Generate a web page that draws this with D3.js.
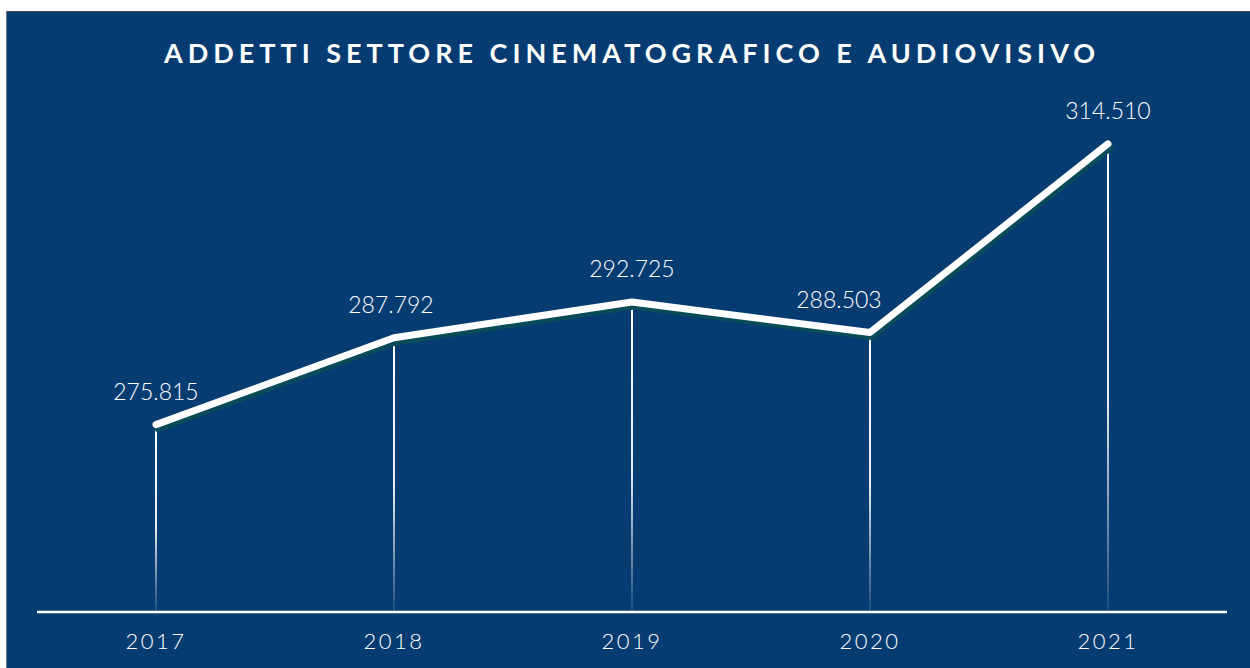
<!DOCTYPE html>
<html>
<head>
<meta charset="utf-8">
<script src="https://cdn.jsdelivr.net/npm/d3@7"></script>
<style>
  body { margin: 0; background: #fff; }
  svg { display: block; }
</style>
</head>
<body>
<div id="chart"></div>
<script>
var years = ["2017", "2018", "2019", "2020", "2021"];
var addetti = [275815, 287792, 292725, 288503, 314510];
var title = "ADDETTI SETTORE CINEMATOGRAFICO E AUDIOVISIVO";

var w = 1250,
	h = 668,
	bg = "#063c71",
	baseY = 612;

var svg = d3.select("#chart")
			.append("svg")
			.attr("width", w)
			.attr("height", h)

// panel
svg.append("rect")
	.attr("x", 7)
	.attr("y", 11)
	.attr("width", w - 7)
	.attr("height", h - 11)
	.style("fill", bg)
svg.append("line")
	.attr("x1", 7).attr("x2", w)
	.attr("y1", 11.5).attr("y2", 11.5)
	.style("stroke", "#3d4a57")
svg.append("line")
	.attr("x1", 6.5).attr("x2", 6.5)
	.attr("y1", 11).attr("y2", h)
	.style("stroke", "#6b7580")

var x = d3.scalePoint()
			.domain(years)
			.range([156, 1108])

var y = d3.scaleLinear()
			.domain([250000, 320000])
			.range([baseY, baseY - 508])

var fmt = d3.formatLocale({decimal: ",", thousands: ".", grouping: [3], currency: ["", "€"]}).format(",d");

var defs = svg.append("defs");
var grad = defs.append("linearGradient")
	.attr("id", "fade")
	.attr("x1", 0).attr("x2", 0)
	.attr("y1", 0).attr("y2", 1)
grad.append("stop").attr("offset", "0%").attr("stop-color", "#fff").attr("stop-opacity", 1)
grad.append("stop").attr("offset", "55%").attr("stop-color", "#fff").attr("stop-opacity", 0.9)
grad.append("stop").attr("offset", "100%").attr("stop-color", "#fff").attr("stop-opacity", 0.08)

// drop lines
svg.selectAll(".drop")
	.data(addetti)
	.enter().append("rect")
	.attr("class", "drop")
	.attr("x", function(d, i) { return x(years[i]) - 1; })
	.attr("y", function(d) { return y(d); })
	.attr("width", 2)
	.attr("height", function(d) { return baseY - y(d); })
	.style("fill", "url(#fade)")

// baseline
svg.append("line")
	.attr("x1", 37).attr("x2", 1227)
	.attr("y1", baseY).attr("y2", baseY)
	.style("stroke", "#fff")
	.style("stroke-width", 2.5)

var line = d3.line()
	.x(function(d, i) { return x(years[i]); })
	.y(function(d) { return y(d); })

// shadow
svg.append("path")
	.datum(addetti)
	.attr("d", line)
	.attr("transform", "translate(2,4)")
	.style("fill", "none")
	.style("stroke", "#0a4b5a")
	.style("stroke-width", 7)
	.style("stroke-linecap", "round")
	.style("stroke-linejoin", "round")

svg.append("path")
	.datum(addetti)
	.attr("d", line)
	.style("fill", "none")
	.style("stroke", "#fff")
	.style("stroke-width", 7)
	.style("stroke-linecap", "round")
	.style("stroke-linejoin", "round")

// value labels (a dip gets its label nudged left, off the rising line)
function isDip(i) {
	return i > 0 && i < addetti.length - 1 && addetti[i] < addetti[i - 1] && addetti[i] < addetti[i + 1];
}
svg.selectAll(".val")
	.data(addetti)
	.enter().append("text")
	.attr("class", "val")
	.attr("x", function(d, i) { return x(years[i]) - (isDip(i) ? 31 : 3 * (i == 1)); })
	.attr("y", function(d) { return y(d) - 25; })
	.style("text-anchor", "middle")
	.style("font", "300 23px Lato, sans-serif")
	.style("fill", "#fff")
	.text(function(d) { return fmt(d); })

// year labels
svg.selectAll(".yr")
	.data(years)
	.enter().append("text")
	.attr("class", "yr")
	.attr("x", function(d) { return x(d); })
	.attr("y", 649)
	.style("text-anchor", "middle")
	.style("font", "300 22px Lato, sans-serif")
	.style("letter-spacing", "2.5px")
	.style("fill", "#fff")
	.text(function(d) { return d; })

svg.append("text")
	.attr("x", 632)
	.attr("y", 63)
	.style("text-anchor", "middle")
	.style("font", "bold 27px Lato, sans-serif")
	.style("letter-spacing", "5px")
	.style("fill", "#fff")
	.text(title)
</script>
</body>
</html>
